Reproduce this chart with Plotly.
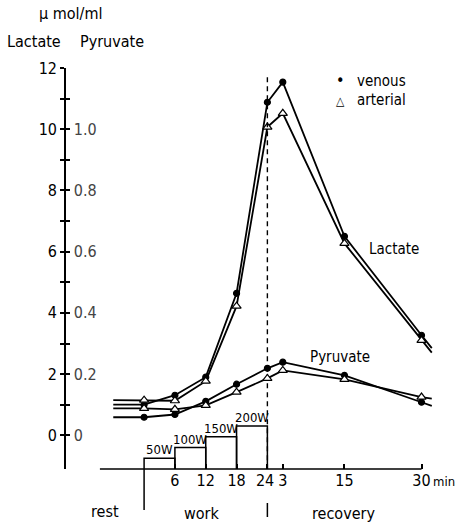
import plotly.graph_objects as go

# ---------------- data ----------------
sample_time = [0, 6, 12, 18, 24, 27, 39, 54]      # minutes from start of work (24 = end of work)
rest_start = -6                                   # flat rest line starts here
tail_time = 56                                    # lines run slightly past last sample

lactate_venous = [1.00, 1.31, 1.90, 4.64, 10.88, 11.54, 6.50, 3.27]
lactate_arterial = [1.15, 1.13, 1.77, 4.22, 10.07, 10.52, 6.27, 3.10]
lactate_venous_tail = 2.85
lactate_arterial_tail = 2.70

pyruvate_venous = [0.059, 0.068, 0.111, 0.167, 0.219, 0.239, 0.196, 0.108]
pyruvate_arterial = [0.088, 0.085, 0.098, 0.141, 0.186, 0.212, 0.183, 0.125]
pyruvate_venous_tail = 0.096
pyruvate_arterial_tail = 0.120

stage_start = [0, 6, 12, 18]
stage_watts = [50, 100, 150, 200]
stage_len = 6
stage_labels = ["50W", "100W", "150W", "200W"]

end_of_work = 24
dashed_top = 11.7

x_tick_vals = [6, 12, 18, 24, 27, 39, 54]
x_tick_text = ["6", "12", "18", "24\u00a0", "3", "15", "30"]
lac_tick_vals = list(range(0, 13))
lac_tick_text = [str(v) if v % 2 == 0 else "" for v in lac_tick_vals]
pyr_tick_vals = [v / 10 for v in range(0, 13)]
pyr_tick_text = ["0", "", "0.2", "", "0.4", "", "0.6", "", "0.8", "", "1.0", "", "1.2"]

Y_MIN, Y_MAX = -1.1, 12
X_MIN, X_MAX = -15.2, 57.6
AXIS_LINE_START = -8.6

FONT = "DejaVu Sans Condensed, DejaVu Sans, sans-serif"

fig = go.Figure()


def add_series(values, tail, yaxis, symbol, filled):
    line_x = [rest_start] + sample_time + [tail_time]
    line_y = [values[0]] + values + [tail]
    fig.add_trace(go.Scatter(x=line_x, y=line_y, yaxis=yaxis, mode="lines",
                             line=dict(color="black", width=1.8), hoverinfo="skip"))
    fig.add_trace(go.Scatter(
        x=sample_time, y=values, yaxis=yaxis, mode="markers",
        marker=dict(symbol=symbol, size=6 if filled else 8,
                    color="black" if filled else "white",
                    line=dict(color="black", width=1.2)),
        hoverinfo="skip"))


add_series(lactate_venous, lactate_venous_tail, "y", "circle", True)
add_series(lactate_arterial, lactate_arterial_tail, "y", "triangle-up", False)
add_series(pyruvate_venous, pyruvate_venous_tail, "y2", "circle", True)
add_series(pyruvate_arterial, pyruvate_arterial_tail, "y2", "triangle-up", False)

# workload steps (boxes from the baseline)
step_x, step_y = [], []
for s, w in zip(stage_start, stage_watts):
    step_x += [s, s, s + stage_len, s + stage_len, None]
    step_y += [0, w, w, 0, None]
fig.add_trace(go.Scatter(x=step_x, y=step_y, yaxis="y3", mode="lines",
                         line=dict(color="black", width=1.5), hoverinfo="skip"))

# dashed end-of-work line
fig.add_trace(go.Scatter(x=[end_of_work, end_of_work], y=[dashed_top, Y_MIN], yaxis="y",
                         mode="lines", line=dict(color="black", width=1.4, dash="5px,4px"),
                         hoverinfo="skip"))

annotations = []
for s, w, lab in zip(stage_start, stage_watts, stage_labels):
    annotations.append(dict(x=s + stage_len / 2, y=w, xref="x", yref="y3", text=lab,
                            showarrow=False, yanchor="bottom", yshift=-1,
                            font=dict(size=13)))


def pa(text, x, y, size=15, xanchor="center"):
    annotations.append(dict(x=x, y=y, xref="paper", yref="paper", text=text, showarrow=False,
                            xanchor=xanchor, yanchor="middle", font=dict(size=size)))


pa("\u00b5 mol/ml", 0.0107, 1.135, size=16)
pa("Lactate", -0.085, 1.065, size=16)
pa("Pyruvate", 0.123, 1.065, size=16)
pa("\u2022", 0.735, 0.9676, size=16)
pa("venous", 0.773, 0.9676, xanchor="left")
pa("\u25b3", 0.733, 0.918, size=12)
pa("arterial", 0.773, 0.920, xanchor="left")
pa("Lactate", 0.877, 0.549)
pa("Pyruvate", 0.733, 0.279)
pa("rest", 0.104, -0.107, size=16)
pa("work", 0.361, -0.110, size=16)
pa("recovery", 0.741, -0.110, size=16)
pa("min", 1.045, -0.030, size=13, xanchor="right")

shapes = [
    dict(type="line", xref="x", yref="paper", x0=AXIS_LINE_START, x1=sample_time[-1], y0=0, y1=0,
         line=dict(color="black", width=1.5)),
    dict(type="line", xref="x", yref="paper", x0=stage_start[0], x1=stage_start[0],
         ysizemode="pixel", yanchor=0, y0=0, y1=-41, line=dict(color="black", width=1.5)),
    dict(type="line", xref="x", yref="paper", x0=end_of_work, x1=end_of_work,
         ysizemode="pixel", yanchor=0, y0=-34, y1=-48, line=dict(color="black", width=1.5)),
]

fig.update_layout(
    width=460, height=531,
    margin=dict(l=66, r=20, t=68, b=62),
    paper_bgcolor="white", plot_bgcolor="white",
    showlegend=False,
    font=dict(family=FONT, size=16, color="black"),
    xaxis=dict(range=[X_MIN, X_MAX], showline=False, showgrid=False, zeroline=False,
               tickvals=x_tick_vals, ticktext=x_tick_text, ticks="inside", ticklen=5,
               tickwidth=1.5, tickcolor="black", tickangle=0, tickfont=dict(size=16)),
    yaxis=dict(range=[Y_MIN, Y_MAX], showline=True, linecolor="black", linewidth=1.6,
               showgrid=False, zeroline=False, ticks="outside", ticklen=4, tickwidth=1.5,
               tickcolor="black", tickvals=lac_tick_vals, ticktext=lac_tick_text,
               tickfont=dict(size=16)),
    yaxis2=dict(overlaying="y", side="left", range=[Y_MIN / 10, Y_MAX / 10], showline=False,
                showgrid=False, zeroline=False, ticks="inside", ticklen=4, tickwidth=1.5,
                tickcolor="black", tickvals=pyr_tick_vals, ticktext=pyr_tick_text,
                ticklabelposition="inside", ticklabelstandoff=4, tickfont=dict(size=16)),
    yaxis3=dict(overlaying="y", range=[0, 1865], visible=False),
    annotations=annotations,
    shapes=shapes,
)

fig.write_html("out.html")
